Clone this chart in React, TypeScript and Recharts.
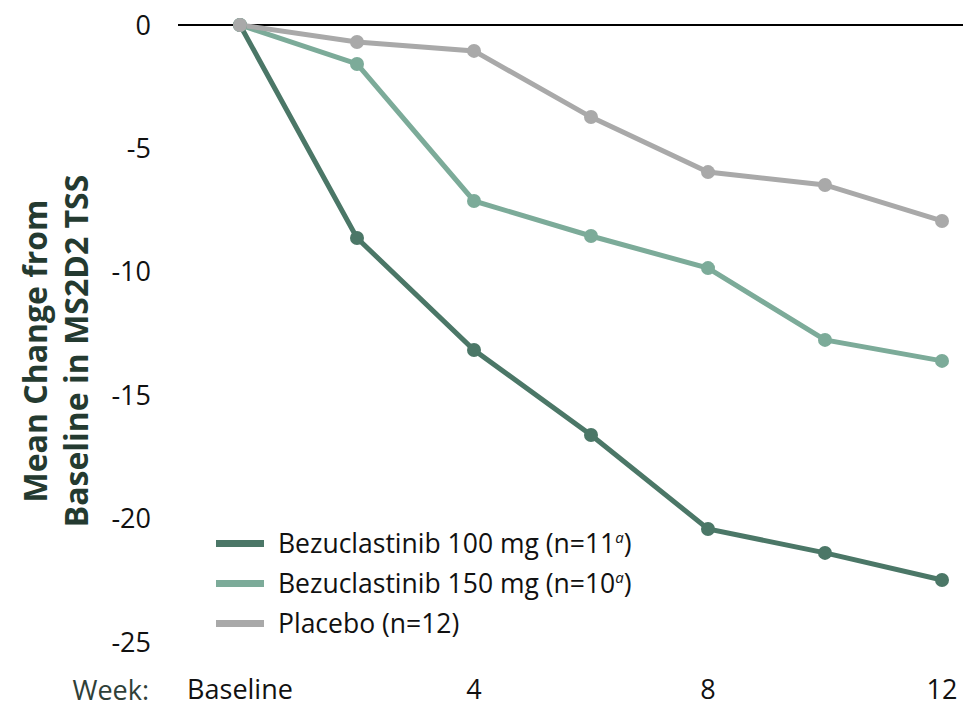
import React from "react";
import { LineChart, Line, XAxis, YAxis, ReferenceLine, Legend } from "recharts";

const weeks = [0, 2, 4, 6, 8, 10, 12];
const bez100 = [0, -8.63, -13.17, -16.61, -20.42, -21.39, -22.49];
const bez150 = [0, -1.58, -7.13, -8.55, -9.85, -12.76, -13.61];
const placebo = [0, -0.69, -1.05, -3.73, -5.96, -6.48, -7.94];
const xTicks = [0, 4, 8, 12];
const yTicks = [0, -5, -10, -15, -20, -25];

const series = [
  { key: "b100", name: "Bezuclastinib 100 mg (n=11", sup: "a", color: "#4b7767" },
  { key: "b150", name: "Bezuclastinib 150 mg (n=10", sup: "a", color: "#7cab99" },
  { key: "pbo", name: "Placebo (n=12)", sup: "", color: "#a9a9a9" },
];

const data = weeks.map((w, i) => ({ week: w, b100: bez100[i], b150: bez150[i], pbo: placebo[i] }));

const FONT = "'Open Sans', sans-serif";

const LegendContent = () => (
  <div style={{ fontFamily: FONT, fontSize: 26.5, color: "#111", whiteSpace: "nowrap" }}>
    {series.map((s) => (
      <div key={s.key} style={{ display: "flex", alignItems: "center", height: 40 }}>
        <div style={{ width: 48, height: 7, background: s.color, marginRight: 14, flex: "none" }} />
        <span>
          {s.name}
          {s.sup ? (
            <>
              <sup style={{ fontStyle: "italic", fontSize: 15 }}>{s.sup}</sup>)
            </>
          ) : null}
        </span>
      </div>
    ))}
  </div>
);

export default function App() {
  return (
    <div style={{ position: "absolute", left: 0, top: 0, width: 963, height: 703, background: "#fff" }}>
      <LineChart width={963} height={703} data={data} margin={{ top: 25, right: 0, bottom: 0, left: 0 }}>
        <XAxis
          dataKey="week"
          type="number"
          domain={[0, 12]}
          ticks={xTicks}
          tickFormatter={(v) => (v === 0 ? "Baseline" : String(v))}
          padding={{ left: 62, right: 21 }}
          axisLine={false}
          tickLine={false}
          tickSize={0}
          tickMargin={38}
          height={61}
          tick={{ fontFamily: FONT, fontSize: 27, fill: "#111" }}
          label={{
            content: (props: any) => {
              const vb = props.viewBox || { x: 178, y: 642 };
              return (
                <text x={vb.x - 29} y={700} textAnchor="end" fontFamily={FONT} fontSize={27} fill="#2f4038">
                  Week:
                </text>
              );
            },
          }}
        />
        <YAxis
          type="number"
          domain={[-25, 0]}
          ticks={yTicks}
          width={178}
          axisLine={false}
          tickLine={false}
          tickSize={0}
          tickMargin={27}
          tick={{ fontFamily: FONT, fontSize: 27, fill: "#111" }}
          label={{
            content: () => (
              <text
                transform="rotate(-90)"
                textAnchor="middle"
                fontFamily={FONT}
                fontSize={32}
                fontWeight="bold"
                fill="#243a30"
              >
                <tspan x={-351} y={47}>Mean Change from</tspan>
                <tspan x={-351} y={88}>Baseline in MS2D2 TSS</tspan>
              </text>
            ),
          }}
        />
        <ReferenceLine y={0} stroke="#000" strokeWidth={2} />
        <Legend
          content={<LegendContent />}
          wrapperStyle={{ position: "absolute", left: 216, top: 523, width: 0, height: 0, overflow: "visible", bottom: "auto" }}
        />
        {series.map((s) => (
          <Line
            key={s.key}
            dataKey={s.key}
            name={s.name}
            stroke={s.color}
            strokeWidth={5}
            dot={{ r: 7, fill: s.color, stroke: s.color, strokeWidth: 0 }}
            isAnimationActive={false}
          />
        ))}
      </LineChart>
    </div>
  );
}
